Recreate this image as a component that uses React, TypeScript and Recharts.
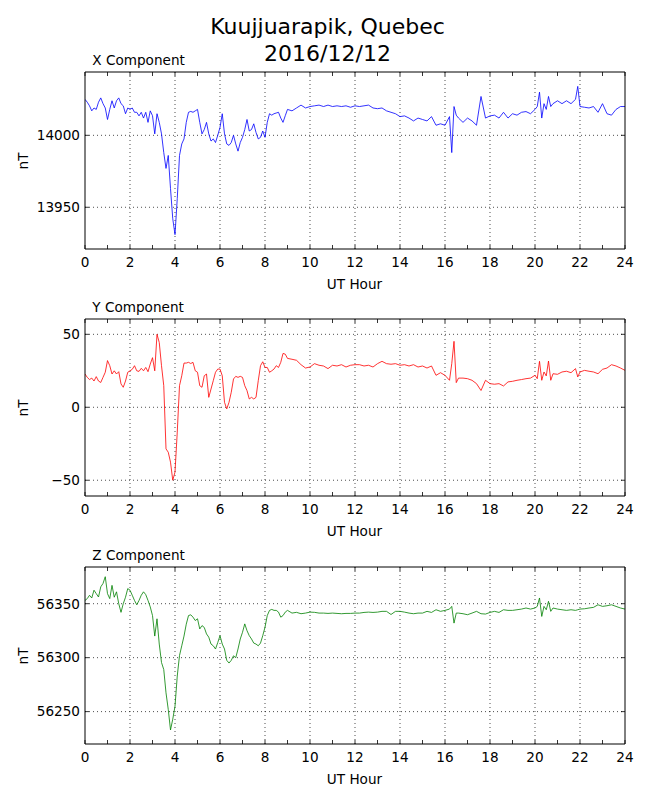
import React from "react"
import { LineChart, Line, XAxis, YAxis, ReferenceLine } from "recharts"

// UT hour of each sample (finer during the substorm, coarser afterwards)
const hours = [
  0, 0.1, 0.2, 0.3, 0.4, 0.5, 0.6, 0.7, 0.8, 0.9,
  1, 1.1, 1.2, 1.3, 1.4, 1.5, 1.6, 1.7, 1.8, 1.9,
  2, 2.1, 2.2, 2.3, 2.4, 2.5, 2.6, 2.7, 2.8, 2.9,
  3, 3.1, 3.2, 3.3, 3.4, 3.5, 3.6, 3.7, 3.8, 3.9,
  4, 4.1, 4.2, 4.3, 4.4, 4.5, 4.6, 4.7, 4.8, 4.9,
  5, 5.1, 5.2, 5.3, 5.4, 5.5, 5.6, 5.7, 5.8, 5.9,
  6, 6.1, 6.2, 6.3, 6.4, 6.5, 6.6, 6.7, 6.8, 6.9,
  7, 7.1, 7.2, 7.3, 7.4, 7.5, 7.6, 7.7, 7.8, 7.9,
  8, 8.1, 8.2, 8.3, 8.4, 8.5, 8.6, 8.7, 8.8, 8.9,
  9, 9.2, 9.4, 9.6, 9.8, 10, 10.2, 10.4, 10.6, 10.8,
  11, 11.2, 11.4, 11.6, 11.8, 12, 12.2, 12.4, 12.6, 12.8,
  13, 13.2, 13.4, 13.6, 13.8, 14, 14.2, 14.4, 14.6, 14.8,
  15, 15.2, 15.4, 15.6, 15.8, 16, 16.2, 16.3, 16.4, 16.5,
  16.6, 16.8, 17, 17.2, 17.4, 17.6, 17.8, 18, 18.2, 18.4,
  18.6, 18.8, 19, 19.2, 19.4, 19.6, 19.8, 20, 20.1, 20.2,
  20.3, 20.4, 20.5, 20.6, 20.7, 20.8, 21, 21.2, 21.4, 21.6,
  21.8, 21.9, 22, 22.2, 22.4, 22.6, 22.8, 23, 23.2, 23.4,
  23.6, 23.8, 24
]

const xValues = [
  14025, 14023, 14020.5, 14017, 14019, 14018, 14023, 14026, 14022, 14019,
  14011, 14018, 14024, 14019, 14024, 14026, 14022, 14020.5, 14015, 14019,
  14018, 14019, 14016, 14016, 14013.5, 14016, 14012, 14016, 14009, 14017,
  14013.6, 14001, 14015, 14009, 14001, 13988, 13977, 13986, 13963, 13942,
  13931, 13956, 13986, 13994, 13997.5, 14009, 14016, 14016.6, 14016, 14017,
  14018, 14009, 14001, 14004, 14009, 14001, 13996, 13997.5, 13995, 14000,
  14005.5, 14015, 14001, 13994, 13993, 13995, 14000, 13994, 13989, 13995,
  13998.6, 14004, 14011, 14003, 14004, 14008, 14002, 13997.5, 13998.6, 14003,
  13998.6, 14009, 14015, 14014, 14015, 14015.5, 14016, 14012, 14009, 14013.6,
  14018, 14017, 14019, 14021, 14019, 14020, 14020.5, 14021, 14020, 14021,
  14020, 14020.5, 14020, 14020.5, 14019.5, 14020.5, 14020, 14020.5, 14021, 14019,
  14018.5, 14019, 14017, 14016, 14015, 14013, 14013.5, 14012, 14010, 14012,
  14011, 14010, 14013, 14007, 14008, 14007, 14013, 13988, 14020, 14014,
  14012, 14009, 14012, 14010, 14007, 14027, 14012, 14013.5, 14014, 14012,
  14016, 14012, 14015, 14014, 14016, 14016.5, 14015, 14018, 14020, 14030,
  14012, 14022, 14018, 14027, 14020, 14022, 14024, 14022, 14024, 14022,
  14025, 14034, 14020, 14019.5, 14019, 14020, 14016, 14022, 14015, 14014,
  14018, 14020, 14020
]

const yValues = [
  22.8, 20.5, 19, 20, 18, 21, 18, 17, 20.5, 24,
  32, 28.5, 22.8, 25, 22.8, 24.4, 16, 13.7, 18, 24,
  25, 26, 28.5, 25, 24.6, 26.7, 25, 27.3, 24.4, 29.6,
  34, 25, 50, 44.4, 28.5, 14.8, -28.5, -30.8, -37.6, -50,
  -44.4, -17, 14.8, 21.6, 30.3, 30.3, 30.8, 30, 30.8, 25,
  24, 14.8, 13.7, 21.6, 22.8, 6.8, 12.5, 18.2, 24, 26.2,
  26.2, 21.6, 3.4, -1.1, 3.4, 10.3, 19.4, 21.2, 20.5, 21.2,
  20.5, 14.8, 11.4, 5.7, 6.8, 5.7, 6.8, 18.2, 28.5, 31.2,
  27.3, 27.3, 24, 25, 26.2, 28.5, 27.3, 30.8, 36.9, 36.4,
  33.5, 32.9, 32.2, 29.2, 26.9, 27.6, 29.9, 28.8, 28.3, 26.5,
  28.8, 28.3, 29.2, 27.6, 28.8, 29.2, 29.2, 28.3, 28.8, 27.6,
  29.9, 31.5, 29.9, 29.5, 29.9, 28.8, 29.2, 28.3, 29.2, 27.6,
  28.3, 26.9, 28.3, 21.9, 23.7, 21.9, 18.5, 29.9, 45.2, 16.9,
  20, 20, 19.6, 18.5, 16.2, 11.5, 18.5, 16.2, 15.8, 16.2,
  14.6, 17.4, 17.8, 18.5, 19, 19.6, 20, 21.9, 19.6, 31.5,
  18.5, 24.2, 21.5, 31.7, 18.5, 23, 22.6, 24.2, 24.7, 23.7,
  26.5, 20.8, 24.2, 25.3, 24.7, 24.2, 23, 26, 26.9, 29.2,
  28.3, 26.9, 25.3
]

const zValues = [
  56353, 56354.7, 56357.8, 56355.3, 56362.5, 56359.3, 56356.2, 56365.6, 56368.7, 56375,
  56359.3, 56354.7, 56367, 56356, 56361, 56350, 56342, 56350, 56356, 56364,
  56362.5, 56357.8, 56353, 56349, 56353, 56357.8, 56361, 56358.4, 56353, 56347,
  56339, 56320, 56336, 56312.6, 56295.5, 56289, 56267.4, 56252, 56233, 56243,
  56255, 56283, 56302, 56311, 56320, 56331, 56339, 56339.7, 56337.5, 56334.4,
  56336, 56326.6, 56329.7, 56328, 56322, 56319, 56312.6, 56311, 56308, 56314,
  56320.4, 56312.6, 56308, 56297.5, 56295, 56297.5, 56301.7, 56300, 56308, 56317.3,
  56323.5, 56331.3, 56325, 56320.4, 56317.3, 56313.5, 56312.6, 56311, 56313.5, 56320.4,
  56328.2, 56339, 56343.8, 56344.7, 56343.8, 56343.8, 56342.2, 56337.5, 56339, 56342.2,
  56343.8, 56341.3, 56342, 56340.7, 56341.3, 56342.2, 56342, 56341.3, 56341.3, 56341,
  56341.3, 56341, 56340.7, 56341, 56341, 56341.3, 56341.3, 56341.9, 56342.2, 56341.9,
  56342.2, 56342.9, 56342.9, 56340, 56342.9, 56342.9, 56342.2, 56341.3, 56340.7, 56341.3,
  56341.3, 56342.9, 56341.9, 56344.4, 56342.9, 56343.8, 56345, 56347.5, 56332, 56341.3,
  56341.3, 56340.7, 56339.8, 56341.3, 56342.9, 56340.7, 56340.4, 56341.9, 56342.9, 56341.9,
  56344.4, 56343.8, 56343.8, 56344.4, 56345, 56346, 56345, 56346, 56347.5, 56355.3,
  56338.2, 56347.5, 56344.4, 56352.2, 56342.9, 56346, 56345, 56344.4, 56343.8, 56344.4,
  56343.8, 56344.4, 56345, 56345.3, 56346, 56346.6, 56349, 56347.5, 56348.1, 56349,
  56347.5, 56346, 56345
]

const hourTicks = [0, 1, 2, 3, 4, 5, 6, 7, 8, 9, 10, 11, 12, 13, 14, 15, 16, 17, 18, 19, 20, 21, 22, 23, 24]
const gridHours = [2, 4, 6, 8, 10, 12, 14, 16, 18, 20, 22]
const xTicks = [13950, 14000]
const yTicks = [-50, 0, 50]
const zTicks = [56250, 56300, 56350]

const FONT = '"DejaVu Sans", Verdana, sans-serif'
const FONT_SIZE = 13.6
const PLOT_HEIGHT = 177
const PAD_TOP = 10

interface PanelProps {
  title: string
  values: number[]
  color: string
  domain: [number, number]
  ticks: number[]
  top: number
}

const fmt = (v: number) => String(v).replace("-", "\u2212")

function Panel({ title, values, color, domain, ticks, top }: PanelProps) {
  const data = hours.map((h, i) => ({ h, v: values[i] }))
  const tickStyle = { fill: "#000", fontSize: FONT_SIZE, fontFamily: FONT }
  const frame = { stroke: "#000", strokeWidth: 1 }
  const tickLn = { stroke: "#000", strokeWidth: 0.8 }

  return (
    <>
      <div
        style={{
          position: "absolute",
          left: 92.3,
          top: top - 20,
          fontFamily: FONT,
          fontSize: FONT_SIZE,
          lineHeight: "16px",
          whiteSpace: "nowrap"
        }}
      >
        {title}
      </div>
      <div style={{ position: "absolute", left: 0, top: top - PAD_TOP }}>
        <LineChart
          width={650}
          height={PAD_TOP + PLOT_HEIGHT + 45}
          data={data}
          margin={{ top: PAD_TOP - 1, right: 24, bottom: 5, left: 0 }}
        >
          {/* dotted grid: every 2 h and at the labelled nT values */}
          {gridHours.map(h => (
            <ReferenceLine
              key={"v" + h}
              xAxisId="bottom"
              yAxisId="left"
              x={h}
              stroke="#000"
              strokeWidth={0.7}
              strokeDasharray="1 3"
            />
          ))}
          {ticks.map(t => (
            <ReferenceLine
              key={"h" + t}
              xAxisId="bottom"
              yAxisId="left"
              y={t}
              stroke="#000"
              strokeWidth={0.7}
              strokeDasharray="1 3"
            />
          ))}
          <XAxis
            xAxisId="bottom"
            dataKey="h"
            type="number"
            domain={[0, 24]}
            ticks={hourTicks}
            interval={0}
            tickFormatter={(v: number) => (v % 2 === 0 ? String(v) : "")}
            tickSize={-4}
            tickMargin={12}
            height={40}
            axisLine={frame}
            tickLine={tickLn}
            tick={tickStyle}
            allowDataOverflow
          />
          <XAxis
            xAxisId="top"
            orientation="top"
            dataKey="h"
            type="number"
            domain={[0, 24]}
            ticks={hourTicks}
            interval={0}
            tickFormatter={() => ""}
            tickSize={-4}
            height={1}
            axisLine={frame}
            tickLine={tickLn}
            tick={tickStyle}
          />
          <YAxis
            yAxisId="left"
            type="number"
            domain={domain}
            ticks={ticks}
            interval={0}
            tickFormatter={fmt}
            tickSize={-4}
            tickMargin={9}
            width={85}
            axisLine={frame}
            tickLine={tickLn}
            tick={tickStyle}
            allowDataOverflow
          />
          <YAxis
            yAxisId="right"
            orientation="right"
            type="number"
            domain={domain}
            ticks={ticks}
            interval={0}
            tickFormatter={() => ""}
            tickSize={-4}
            width={1}
            axisLine={frame}
            tickLine={tickLn}
            tick={tickStyle}
            allowDataOverflow
          />
          <Line
            xAxisId="bottom"
            yAxisId="left"
            type="linear"
            dataKey="v"
            stroke={color}
            strokeWidth={0.8}
            dot={false}
            isAnimationActive={false}
          />
        </LineChart>
      </div>
      <div
        style={{
          position: "absolute",
          left: 254.5,
          width: 200,
          top: top + 203.3,
          textAlign: "center",
          fontFamily: FONT,
          fontSize: FONT_SIZE,
          lineHeight: "16px"
        }}
      >
        UT Hour
      </div>
      <div
        style={{
          position: "absolute",
          left: 22.7 - 20,
          width: 40,
          top: top + PLOT_HEIGHT / 2 - 8,
          textAlign: "center",
          fontFamily: FONT,
          fontSize: FONT_SIZE,
          lineHeight: "16px",
          transform: "rotate(-90deg)"
        }}
      >
        nT
      </div>
    </>
  )
}

export default function App() {
  return (
    <div style={{ position: "absolute", left: 0, top: 0, width: 650, height: 800, background: "#fff" }}>
      <div
        style={{
          position: "absolute",
          left: 2.5,
          width: 650,
          top: 13,
          textAlign: "center",
          fontFamily: FONT,
          fontSize: 22,
          lineHeight: "27.4px"
        }}
      >
        Kuujjuarapik, Quebec
        <br />
        2016/12/12
      </div>
      <Panel title="X Component" values={xValues} color="#0000ff" domain={[13921, 14044]} ticks={xTicks} top={72.3} />
      <Panel title="Y Component" values={yValues} color="#ff0000" domain={[-60.8, 60.5]} ticks={yTicks} top={319.3} />
      <Panel title="Z Component" values={zValues} color="#008000" domain={[56220, 56384]} ticks={zTicks} top={567.3} />
    </div>
  )
}
